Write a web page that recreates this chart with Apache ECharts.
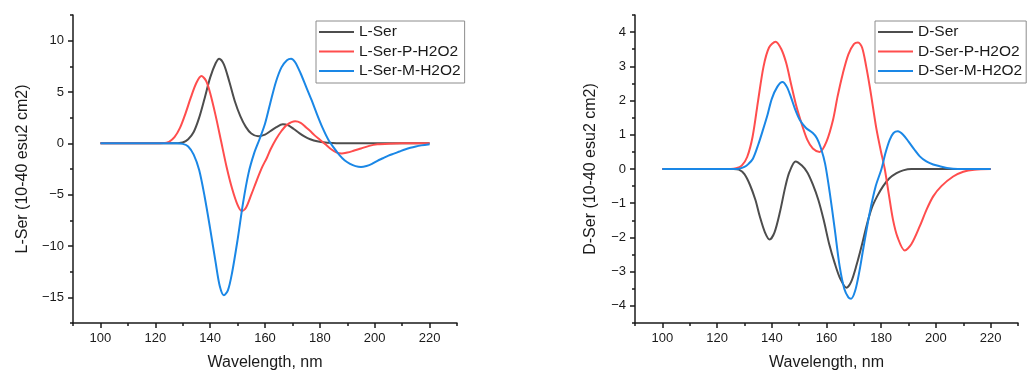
<!DOCTYPE html>
<html>
<head>
<meta charset="utf-8">
<title>L-Ser / D-Ser</title>
<script src="https://cdn.jsdelivr.net/npm/echarts@6/dist/echarts.min.js"></script>
<style>
  html, body { margin: 0; padding: 0; background: #fff; }
  #chart { width: 1027px; height: 372px; }
</style>
</head>
<body>
<div id="chart"></div>
<script>
// tick positions
const xMajor = [100, 120, 140, 160, 180, 200, 220]
const xMinor = [90, 110, 130, 150, 170, 190, 210, 230]
const lMajor = [-15, -10, -5, 0, 5, 10]
const lMinor = [-17.5, -12.5, -7.5, -2.5, 2.5, 7.5, 12.5]
const dMajor = [-4, -3, -2, -1, 0, 1, 2, 3, 4]
const dMinor = [-4.5, -3.5, -2.5, -1.5, -0.5, 0.5, 1.5, 2.5, 3.5, 4.5]

const lNames = ['L-Ser', 'L-Ser-P-H2O2', 'L-Ser-M-H2O2']
const dNames = ['D-Ser', 'D-Ser-P-H2O2', 'D-Ser-M-H2O2']

// [wavelength nm, value]
const lSer = [[100, 0], [110, 0], [120, 0], [126, 0], [128, 0.01], [130, 0.08], [132, 0.4], [134, 1.1], [136, 2.5], [138, 4.4],
  [140, 6.4], [142, 7.8], [143.3, 8.25], [145, 7.7], [147, 6.0], [149, 4.1], [151, 2.65], [153, 1.6], [155, 0.95], [157.5, 0.68],
  [160, 0.85], [162, 1.2], [164, 1.55], [166.5, 1.85], [168.5, 1.75], [170.5, 1.4], [172.5, 1.0], [174.5, 0.65], [176.5, 0.4],
  [179, 0.2], [182, 0.08], [186, 0.02], [190, 0], [200, 0], [210, 0], [220, 0]]
const lSerP = [[100, 0], [110, 0], [120, 0], [123, 0.02], [125, 0.15], [127, 0.6], [129, 1.5], [131, 2.9], [133, 4.5], [135, 5.9],
  [136.8, 6.55], [138.5, 6.1], [140, 4.9], [142, 2.7], [144, 0.2], [146, -2.3], [148, -4.4], [150, -6.0], [151.5, -6.6], [153, -6.3],
  [155, -5.0], [157, -3.6], [159, -2.3], [160.7, -1.4], [162, -0.6], [164, 0.4], [166, 1.2], [168, 1.8], [171, 2.15], [173, 2.0],
  [175, 1.55], [176.5, 1.2], [178, 0.8], [180, 0.35], [182, -0.1], [184, -0.55], [186, -0.88], [188, -1.0], [190, -0.9], [192, -0.75],
  [195, -0.5], [198, -0.25], [201, -0.1], [205, -0.03], [210, 0], [220, 0]]
const lSerM = [[100, 0], [110, 0], [120, 0], [128, 0], [130, -0.05], [132, -0.3], [134, -1.1], [136, -2.6], [138, -5.2], [140, -8.3],
  [142, -11.6], [143.5, -13.9], [145, -14.8], [146.5, -14.3], [148, -12.6], [150, -9.4], [152, -5.8], [154, -2.9], [156, -1.0],
  [158, 0.4], [160, 1.9], [162, 4.0], [164, 6.0], [166, 7.4], [168, 8.1], [169.5, 8.25], [171, 7.9], [173, 6.8], [175, 5.5],
  [177, 4.2], [179, 2.8], [181, 1.5], [183, 0.4], [185, -0.4], [187, -1.1], [189, -1.65], [191, -2.0], [193, -2.22], [195, -2.3],
  [197, -2.2], [199, -2.0], [201, -1.7], [203, -1.45], [205, -1.2], [207, -1.0], [209, -0.8], [211, -0.6], [213, -0.43],
  [215, -0.3], [217, -0.2], [220, -0.08]]

const dSer = [[100, 0], [110, 0], [120, 0], [126, 0], [128, -0.02], [130, -0.15], [132, -0.46], [134, -0.9], [135.6, -1.38],
  [137.5, -1.85], [139.2, -2.06], [141, -1.85], [143, -1.25], [145, -0.5], [146.5, -0.08], [148.7, 0.22], [151, 0.1], [153, -0.1],
  [155, -0.45], [157, -0.9], [159, -1.5], [161, -2.2], [163, -2.75], [165, -3.2], [167.3, -3.47], [169, -3.3], [171, -2.8],
  [173, -2.2], [174.6, -1.67], [176.5, -1.15], [178.5, -0.8], [180.7, -0.5], [183, -0.27], [185.6, -0.12], [188, -0.04],
  [191, 0], [200, 0], [210, 0], [220, 0]]
const dSerP = [[100, 0], [110, 0], [120, 0], [125, 0], [127, 0.02], [129, 0.1], [131, 0.35], [133, 0.95], [135, 2.0], [137, 3.0],
  [139, 3.55], [141.4, 3.72], [143.5, 3.5], [145.3, 3.09], [147, 2.5], [149, 1.83], [151, 1.3], [153, 0.85], [155, 0.6],
  [157.5, 0.5], [160, 0.8], [162.4, 1.44], [164, 2.1], [166, 2.8], [168, 3.35], [170, 3.65], [171.5, 3.7], [173, 3.55],
  [174.5, 3.0], [175.8, 2.41], [177, 1.8], [178.3, 1.15], [179.8, 0.55], [181.3, 0], [182.8, -0.75], [184.3, -1.48], [186, -2.0],
  [188.6, -2.38], [191, -2.2], [194.1, -1.67], [196.5, -1.2], [199, -0.8], [202, -0.5], [206.3, -0.22], [210, -0.08],
  [214, -0.02], [220, 0]]
const dSerM = [[100, 0], [110, 0], [120, 0], [126, 0], [128, 0.01], [130, 0.06], [131.5, 0.15], [133.1, 0.3], [135, 0.7],
  [136.8, 1.15], [138.5, 1.6], [140, 2.05], [142, 2.4], [143.9, 2.54], [145.5, 2.4], [147, 2.1], [148.5, 1.75], [150.2, 1.44],
  [152.5, 1.2], [155, 1.05], [156.5, 0.9], [158, 0.6], [159.5, 0.15], [161.2, -0.7], [163, -1.75], [164.8, -2.84], [166.5, -3.5],
  [168, -3.75], [169, -3.79], [170.5, -3.55], [172, -3.0], [173.5, -2.3], [175.8, -1.28], [178, -0.5], [180.1, 0], [181.5, 0.45],
  [183.1, 0.85], [184.5, 1.05], [186.1, 1.1], [188, 1.0], [190, 0.8], [192, 0.58], [194.1, 0.37], [196.5, 0.22], [199, 0.13],
  [201.4, 0.08], [204, 0.03], [208, 0], [220, 0]]

const colors = ['#4d4d4d', '#ff4d4d', '#1a87e6']
const font = 'Liberation Sans, Arial, sans-serif'
const ink = '#1a1a1a'
const minus = v => String(v).replace('-', '\u2212')

function mainAxis (gridIndex, min, max, ticks, name, gap, isX) {
  return {
    type: 'value',
    gridIndex,
    position: isX ? 'bottom' : 'left',
    min,
    max,
    name,
    nameLocation: 'middle',
    nameGap: gap,
    nameTextStyle: { fontFamily: font, fontSize: 16, color: ink },
    axisLine: { show: true, onZero: false, lineStyle: { color: ink, width: 1.5 } },
    axisTick: { show: true, customValues: ticks, length: 5, lineStyle: { color: ink, width: 1.5 } },
    axisLabel: { customValues: ticks, formatter: minus, margin: 9, fontFamily: font, fontSize: 13, color: ink },
    splitLine: { show: false }
  }
}

function minorAxis (gridIndex, min, max, ticks, isX) {
  return {
    type: 'value',
    gridIndex,
    position: isX ? 'bottom' : 'left',
    min,
    max,
    axisLine: { show: false, onZero: false },
    axisTick: { show: true, customValues: ticks, length: 3, lineStyle: { color: ink, width: 1.5 } },
    axisLabel: { show: false },
    splitLine: { show: false }
  }
}

function lineSeries (name, data, color, xi, yi) {
  return {
    name,
    type: 'line',
    data,
    xAxisIndex: xi,
    yAxisIndex: yi,
    smooth: 0.3,
    symbol: 'none',
    lineStyle: { color, width: 2 },
    itemStyle: { color }
  }
}

function legendBox (names, left) {
  return {
    data: names,
    orient: 'vertical',
    left,
    top: 21,
    itemWidth: 35,
    itemHeight: 12,
    itemGap: 3.5,
    padding: [3, 4, 4, 2],
    borderColor: '#8c8c8c',
    borderWidth: 1,
    backgroundColor: '#fff',
    itemStyle: { opacity: 0 },
    lineStyle: { width: 2 },
    textStyle: { fontFamily: font, fontSize: 15.5, lineHeight: 16, color: ink }
  }
}

const chart = echarts.init(document.getElementById('chart'))
chart.setOption({
  animation: false,
  grid: [
    { left: 73, top: 15, width: 384, height: 308, outerBoundsMode: 'none' },
    { left: 635, top: 15, width: 383, height: 308, outerBoundsMode: 'none' }
  ],
  xAxis: [
    mainAxis(0, 90, 230, xMajor, 'Wavelength, nm', 32, true),
    minorAxis(0, 90, 230, xMinor, true),
    mainAxis(1, 90, 230, xMajor, 'Wavelength, nm', 32, true),
    minorAxis(1, 90, 230, xMinor, true)
  ],
  yAxis: [
    mainAxis(0, -17.5, 12.5, lMajor, 'L-Ser (10-40 esu2 cm2)', 42, false),
    minorAxis(0, -17.5, 12.5, lMinor, false),
    mainAxis(1, -4.5, 4.5, dMajor, 'D-Ser (10-40 esu2 cm2)', 36, false),
    minorAxis(1, -4.5, 4.5, dMinor, false)
  ],
  legend: [legendBox(lNames, 316), legendBox(dNames, 875)],
  series: [
    lineSeries(lNames[0], lSer, colors[0], 0, 0),
    lineSeries(lNames[1], lSerP, colors[1], 0, 0),
    lineSeries(lNames[2], lSerM, colors[2], 0, 0),
    lineSeries(dNames[0], dSer, colors[0], 2, 2),
    lineSeries(dNames[1], dSerP, colors[1], 2, 2),
    lineSeries(dNames[2], dSerM, colors[2], 2, 2)
  ]
})
</script>
</body>
</html>
